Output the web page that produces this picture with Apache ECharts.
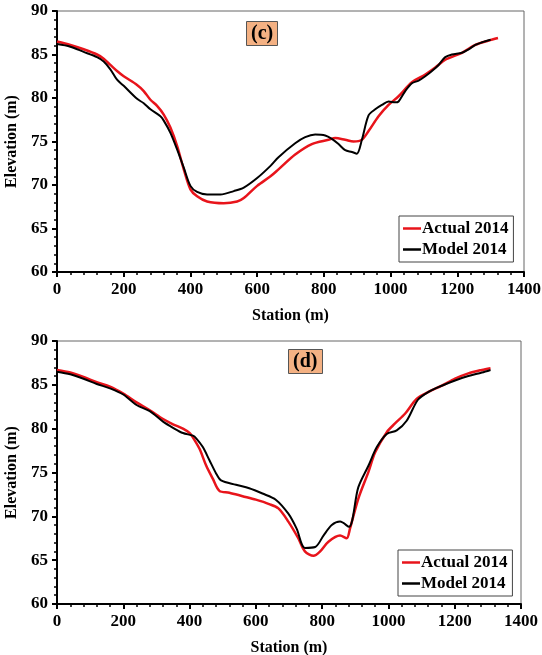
<!DOCTYPE html>
<html>
<head>
<meta charset="utf-8">
<script src="https://cdn.jsdelivr.net/npm/echarts@6/dist/echarts.min.js"></script>
<style>html,body{margin:0;padding:0;background:#fff}#c{width:542px;height:655px}</style>
</head>
<body>
<div id="c"></div>
<script>
// Panel (c)
const cActualX = [0,40,80,120,140,160,180,200,240,260,280,300,320,340,360,380,400,420,450,500,540,560,600,640,664,714,764,814,834,864,889,914,934,964,994,1024,1064,1104,1134,1164,1214,1254,1294,1322];
const cActualY = [86.5,86.1,85.6,85.0,84.5,83.8,83.1,82.5,81.5,80.8,79.8,79.1,78.1,76.6,74.5,71.8,69.5,68.7,68.1,67.9,68.1,68.5,69.9,71.0,71.8,73.5,74.7,75.2,75.4,75.2,75.0,75.2,76.2,77.9,79.2,80.2,81.8,82.7,83.5,84.4,85.2,86.1,86.6,86.9];
const cModelX = [0,40,80,120,140,160,180,200,240,260,280,310,320,340,360,380,400,420,450,490,530,560,600,640,664,714,744,774,804,824,844,864,884,899,914,934,954,974,994,1014,1024,1044,1064,1084,1104,1124,1144,1164,1184,1214,1234,1254,1274,1300];
const cModelY = [86.2,85.9,85.3,84.7,84.2,83.3,82.1,81.4,79.9,79.4,78.7,77.9,77.4,76.0,74.1,72.0,69.9,69.2,68.9,68.9,69.3,69.7,70.8,72.2,73.2,74.8,75.5,75.8,75.7,75.3,74.7,74.0,73.8,73.6,75.2,78.0,78.7,79.2,79.6,79.5,79.6,80.8,81.7,82.0,82.5,83.1,83.8,84.7,85.0,85.2,85.6,86.1,86.4,86.7];
// Panel (d)
const dActualX = [0,40,80,120,160,200,240,280,320,350,380,400,410,430,450,470,490,520,560,600,640,668,698,728,748,774,794,819,854,874,884,909,940,960,995,1020,1050,1085,1121,1161,1201,1241,1282,1308];
const dActualY = [86.7,86.4,85.9,85.3,84.8,84.0,83.0,82.1,81.1,80.5,80.0,79.5,79.0,77.7,75.8,74.3,72.9,72.7,72.3,71.9,71.4,70.9,69.4,67.5,66.0,65.5,66.0,67.1,67.8,67.5,68.6,72.0,75.1,77.3,79.6,80.6,81.7,83.4,84.2,84.9,85.7,86.3,86.7,86.9];
const dModelX = [0,40,80,120,160,200,240,280,320,350,380,410,420,440,460,480,495,540,580,620,660,698,723,748,779,804,829,854,881,909,940,965,995,1025,1055,1089,1121,1161,1201,1241,1282,1308];
const dModelY = [86.5,86.2,85.7,85.1,84.6,83.9,82.7,82.0,80.8,80.1,79.5,79.2,78.9,77.9,76.4,74.9,74.1,73.6,73.2,72.6,71.9,70.3,68.6,66.4,66.5,67.8,69.0,69.4,68.8,73.3,75.8,77.9,79.4,79.8,80.9,83.3,84.2,84.9,85.5,86.0,86.4,86.7];
const xTicks = [0,200,400,600,800,1000,1200,1400];
const yTicks = [60,65,70,75,80,85,90];
const panelLabels = ['(c)','(d)'];
const seriesNames = ['Actual 2014','Model 2014'];

const zip = (xs, ys) => xs.map((x, i) => [x, ys[i]]);
const FONT = "'Liberation Serif','DejaVu Serif',serif";
const plain = v => String(v);

function xAxis(gi) {
  return {
    gridIndex: gi, type: 'value', min: xTicks[0], max: xTicks[xTicks.length-1], interval: 200,
    name: 'Station (m)', nameLocation: 'middle', nameGap: 36,
    nameTextStyle: {fontFamily: FONT, fontWeight: 'bold', fontSize: 16, color: '#000'},
    axisLine: {show: true, onZero: false, lineStyle: {color: '#000', width: 2}},
    axisTick: {show: true, inside: false, length: 5, lineStyle: {color: '#000', width: 2}},
    minorTick: {show: true, splitNumber: 5, length: 3, lineStyle: {color: '#000', width: 1.5}},
    axisLabel: {fontFamily: FONT, fontWeight: 'bold', fontSize: 17, color: '#000', margin: 9, formatter: plain},
    splitLine: {show: false}
  };
}
function yAxis(gi) {
  return {
    gridIndex: gi, type: 'value', min: yTicks[0], max: yTicks[yTicks.length-1], interval: 5,
    name: 'Elevation (m)', nameLocation: 'middle', nameGap: 34,
    nameTextStyle: {fontFamily: FONT, fontWeight: 'bold', fontSize: 16, color: '#000'},
    axisLine: {show: true, onZero: false, lineStyle: {color: '#000', width: 2}},
    axisTick: {show: true, inside: false, length: 5, lineStyle: {color: '#000', width: 2}},
    minorTick: {show: true, splitNumber: 5, length: 3, lineStyle: {color: '#000', width: 1.5}},
    axisLabel: {fontFamily: FONT, fontWeight: 'bold', fontSize: 17, color: '#000', margin: 9, formatter: plain},
    splitLine: {show: false}
  };
}
function legend(left, top) {
  return {
    left: left, top: top, orient: 'vertical', data: seriesNames,
    icon: 'rect', itemWidth: 18, itemHeight: 2.5, itemGap: 4,
    borderColor: '#444', borderWidth: 1, padding: [4, 5, 4, 4],
    backgroundColor: '#fff',
    textStyle: {fontFamily: FONT, fontWeight: 'bold', fontSize: 17, color: '#000', padding: [0,0,0,-4]}
  };
}
function title(text, left, top) {
  return {
    text: text, left: left, top: top,
    backgroundColor: '#f4b183', borderColor: '#555', borderWidth: 1,
    padding: [3, 5, 2, 5],
    textStyle: {fontFamily: FONT, fontWeight: 'bold', fontSize: 20, color: '#000'}
  };
}
function line(name, data, gi, color, w) {
  return {
    name: name, type: 'line', xAxisIndex: gi, yAxisIndex: gi, data: data,
    showSymbol: false, smooth: 0.3, color: color,
    lineStyle: {color: color, width: w}, z: name === seriesNames[0] ? 2 : 3
  };
}

const chart = echarts.init(document.getElementById('c'), null, {renderer: 'canvas'});
chart.setOption({
  animation: false,
  backgroundColor: '#fff',
  grid: [
    {left: 57, top: 11, width: 467, height: 261, show: true, borderColor: '#666', borderWidth: 1, containLabel: false, outerBoundsMode: 'none'},
    {left: 57, top: 341, width: 464, height: 263, show: true, borderColor: '#666', borderWidth: 1, containLabel: false, outerBoundsMode: 'none'}
  ],
  title: [title(panelLabels[0], 246, 21), title(panelLabels[1], 288, 349)],
  legend: [legend(399, 216), legend(398, 550)],
  xAxis: [xAxis(0), xAxis(1)],
  yAxis: [yAxis(0), yAxis(1)],
  series: [
    line(seriesNames[0], zip(cActualX, cActualY), 0, '#e8141b', 2.5),
    line(seriesNames[1], zip(cModelX, cModelY), 0, '#000000', 2),
    line(seriesNames[0], zip(dActualX, dActualY), 1, '#e8141b', 2.5),
    line(seriesNames[1], zip(dModelX, dModelY), 1, '#000000', 2)
  ]
});
</script>
</body>
</html>
